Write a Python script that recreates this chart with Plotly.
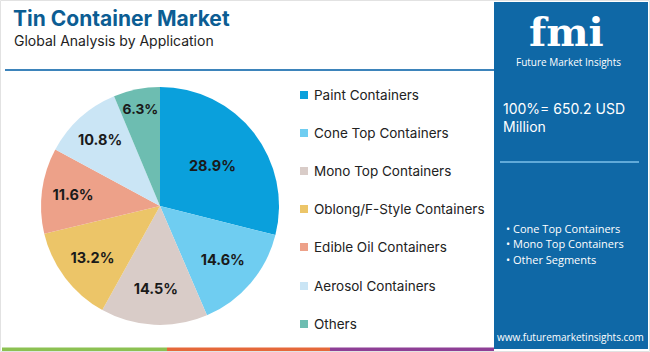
import plotly.graph_objects as go

categories = ["Paint Containers", "Cone Top Containers", "Mono Top Containers",
              "Oblong/F-Style Containers", "Edible Oil Containers",
              "Aerosol Containers", "Others"]
shares = [28.9, 14.6, 14.5, 13.2, 11.6, 10.8, 6.3]
colors = ["#0aa0dc", "#6fcdf1", "#d9ccc8", "#ecc568", "#eda189", "#cae5f5", "#6dbdb1"]
title_text = "Tin Container Market"
subtitle_text = "Global Analysis by Application"
total_text = "100%= 650.2 USD<br>Million"
key_segments = ["Cone Top Containers", "Mono Top Containers", "Other Segments"]
url_text = "www.futuremarketinsights.com"

W, H = 650, 352
FONT = "Inter, Noto Sans, sans-serif"

fig = go.Figure()
fig.add_trace(go.Pie(
    labels=categories, values=shares, sort=False, direction="clockwise",
    rotation=0, marker=dict(colors=colors, line=dict(width=0)),
    texttemplate="<b>%{value:.1f}%</b>", textinfo="text",
    textposition="inside", insidetextorientation="horizontal",
    textfont=dict(family=FONT, size=14.5, color="#1a1a1a"),
    domain=dict(x=[(160 - 119) / W, (160 + 119) / W], y=[(352 - 206 - 119) / H, (352 - 206 + 119) / H]),
    showlegend=False, hoverinfo="label+percent",
))

shapes = []
annotations = []

def px(x):
    return x / W

def py(y):
    return 1 - y / H

# outer frame
shapes.append(dict(type="rect", xref="paper", yref="paper", x0=px(0.5), x1=px(649.5), y0=py(351.5), y1=py(0.5),
                   line=dict(color="#e2e2e2", width=1)))
# title rule
shapes.append(dict(type="line", xref="paper", yref="paper", x0=px(5), x1=px(494), y0=py(70), y1=py(70),
                   line=dict(color="#3d84bb", width=2)))
# right panel
shapes.append(dict(type="rect", xref="paper", yref="paper", x0=px(494), x1=px(648), y0=py(349), y1=py(2),
                   fillcolor="#0f68a6", line=dict(width=0), layer="below"))
# panel rule
shapes.append(dict(type="line", xref="paper", yref="paper", x0=px(500), x1=px(639), y0=py(162), y1=py(162),
                   line=dict(color="#7cc0ea", width=1.5)))
# bottom stripes
for x0, x1, c in [(2, 167, "#8cc152"), (167, 330, "#e5683a"), (330, 494, "#8e3f96")]:
    shapes.append(dict(type="rect", xref="paper", yref="paper", x0=px(x0), x1=px(x1), y0=py(351), y1=py(347.5),
                       fillcolor=c, line=dict(width=0)))

# title and subtitle
annotations.append(dict(text="<b>" + title_text + "</b>", x=px(11), y=py(18), xref="paper", yref="paper",
                        xanchor="left", yanchor="middle", showarrow=False,
                        font=dict(family=FONT, size=21, color="#0c5d93")))
annotations.append(dict(text=subtitle_text, x=px(12), y=py(40), xref="paper", yref="paper",
                        xanchor="left", yanchor="middle", showarrow=False,
                        font=dict(family=FONT, size=14, color="#222222")))

# legend
legend_y = [95, 133, 171, 209, 247, 286, 324]
for cat, col, yy in zip(categories, colors, legend_y):
    shapes.append(dict(type="rect", xref="paper", yref="paper", x0=px(300), x1=px(308), y0=py(yy + 4), y1=py(yy - 4),
                       fillcolor=col, line=dict(width=0)))
    annotations.append(dict(text=cat, x=px(312), y=py(yy), xref="paper", yref="paper",
                            xanchor="left", yanchor="middle", showarrow=False,
                            font=dict(family=FONT, size=13.5, color="#222222")))

# logo
annotations.append(dict(text="<b>fmi</b>", x=px(566), y=py(31), xref="paper", yref="paper",
                        xanchor="center", yanchor="middle", showarrow=False,
                        font=dict(family="DejaVu Serif, serif", size=40, color="#ffffff")))
annotations.append(dict(text="Future Market Insights", x=px(568), y=py(62), xref="paper", yref="paper",
                        xanchor="center", yanchor="middle", showarrow=False,
                        font=dict(family="Open Sans, sans-serif", size=10, color="#ffffff")))
# total
annotations.append(dict(text=total_text, x=px(501), y=py(117), xref="paper", yref="paper",
                        xanchor="left", yanchor="middle", showarrow=False, align="left",
                        font=dict(family=FONT, size=14, color="#ffffff")))
# key segments
for seg, yy in zip(key_segments, [229, 243, 259]):
    annotations.append(dict(text="\u2022 " + seg, x=px(504), y=py(yy), xref="paper", yref="paper",
                            xanchor="left", yanchor="middle", showarrow=False,
                            font=dict(family="Open Sans, sans-serif", size=11, color="#ffffff")))
annotations.append(dict(text=url_text, x=px(570), y=py(337), xref="paper", yref="paper",
                        xanchor="center", yanchor="middle", showarrow=False,
                        font=dict(family="Open Sans, sans-serif", size=10, color="#ffffff")))

fig.update_layout(width=W, height=H, margin=dict(l=0, r=0, t=0, b=0),
                  paper_bgcolor="#ffffff", plot_bgcolor="#ffffff",
                  shapes=shapes, annotations=annotations, showlegend=False)
fig.write_html("out.html")
